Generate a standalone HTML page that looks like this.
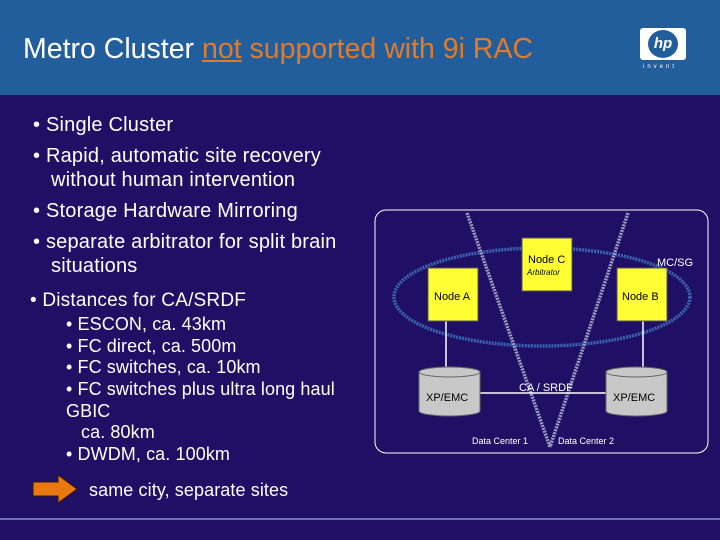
<!DOCTYPE html>
<html><head><meta charset="utf-8"><style>
body{margin:0;width:720px;height:540px;overflow:hidden;background:#1f1065;font-family:"Liberation Sans",sans-serif;position:relative;color:#fff}
.t{position:absolute;white-space:nowrap}
.b{font-size:20px;letter-spacing:0.2px}
.s{font-size:18px;letter-spacing:0.1px}
</style></head><body>
<div style="position:absolute;left:0;top:0;width:720px;height:95px;background:#235e9c"></div>
<div class="t" style="left:23px;top:33px;font-size:28.5px;color:#fff">Metro Cluster <span style="color:#e07b2a;text-decoration:underline">not</span><span style="color:#e07b2a"> supported with 9i RAC</span></div>
<div style="position:absolute;left:640px;top:28px;width:46px;height:32px;background:#fff;border-radius:3px"></div>
<div style="position:absolute;left:648px;top:30px;width:30px;height:28px;border-radius:50%;background:#235e9c;color:#fff;font:italic bold 15px 'Liberation Sans',sans-serif;text-align:center;line-height:28px">hp</div>
<div class="t" style="left:643px;top:64px;font-size:6px;letter-spacing:3px">invent</div>

<div class="t b" style="left:33px;top:114px">• Single Cluster</div>
<div class="t b" style="left:33px;top:145px">• Rapid, automatic site recovery</div>
<div class="t b" style="left:51px;top:169px">without human intervention</div>
<div class="t b" style="left:33px;top:200px">• Storage Hardware Mirroring</div>
<div class="t b" style="left:33px;top:231px">• separate arbitrator for split brain</div>
<div class="t b" style="left:51px;top:255px">situations</div>
<div class="t b" style="left:30px;top:290px;font-size:19px">• Distances for CA/SRDF</div>
<div class="t s" style="left:66px;top:314px">• ESCON, ca. 43km</div>
<div class="t s" style="left:66px;top:336px">• FC direct, ca. 500m</div>
<div class="t s" style="left:66px;top:357px">• FC switches, ca. 10km</div>
<div class="t s" style="left:66px;top:379px">• FC switches plus ultra long haul</div>
<div class="t s" style="left:66px;top:401px">GBIC</div>
<div class="t s" style="left:81px;top:422px">ca. 80km</div>
<div class="t s" style="left:66px;top:444px">• DWDM, ca. 100km</div>
<div class="t s" style="left:89px;top:480px">same city, separate sites</div>
<svg style="position:absolute;left:0;top:0" width="720" height="540">
<polygon points="33,482 58,482 58,475 77,489 58,503 58,496 33,496" fill="#e8780f" stroke="#3a1a00" stroke-width="1"/>
<line x1="0" y1="519" x2="720" y2="519" stroke="#7f8fd0" stroke-width="1.5"/>
<rect x="375" y="210" width="333" height="243" rx="11" fill="none" stroke="#fff" stroke-width="1"/>
<ellipse cx="542" cy="297" rx="148" ry="49" fill="none" stroke="#3a63b0" stroke-width="3.5" stroke-dasharray="2 1"/>
<line x1="467" y1="213" x2="550" y2="447" stroke="#9a9ac0" stroke-width="3.5" stroke-dasharray="2 1"/>
<line x1="628" y1="213" x2="550" y2="447" stroke="#9a9ac0" stroke-width="3.5" stroke-dasharray="2 1"/>
<line x1="446" y1="321" x2="446" y2="370" stroke="#fff" stroke-width="1.5"/>
<line x1="643" y1="321" x2="643" y2="370" stroke="#fff" stroke-width="1.5"/>
<line x1="480" y1="393" x2="606" y2="393" stroke="#fff" stroke-width="1.5"/>
<rect x="522" y="238" width="50" height="53" fill="#ffff33" stroke="#555" stroke-width="1"/>
<rect x="428" y="268" width="50" height="53" fill="#ffff33" stroke="#555" stroke-width="1"/>
<rect x="617" y="268" width="50" height="53" fill="#ffff33" stroke="#555" stroke-width="1"/>
<g fill="#c8c8c8" stroke="#666" stroke-width="1">
<path d="M419,372 L419,411 A30.5,5 0 0 0 480,411 L480,372"/>
<ellipse cx="449.5" cy="372" rx="30.5" ry="5"/>
<path d="M606,372 L606,411 A30.5,5 0 0 0 667,411 L667,372"/>
<ellipse cx="636.5" cy="372" rx="30.5" ry="5"/>
</g>
<g font-family="Liberation Sans,sans-serif" font-size="11" fill="#000">
<text x="528" y="263">Node C</text>
<text x="527" y="275" font-size="8" font-style="italic">Arbitrator</text>
<text x="434" y="300">Node A</text>
<text x="622" y="300">Node B</text>
<text x="426" y="401">XP/EMC</text>
<text x="613" y="401">XP/EMC</text>
</g>
<g font-family="Liberation Sans,sans-serif" font-size="11" fill="#fff">
<text x="657" y="266">MC/SG</text>
<text x="519" y="391">CA / SRDF</text>
<text x="472" y="444" font-size="9">Data Center 1</text>
<text x="558" y="444" font-size="9">Data Center 2</text>
</g>
</svg>
</body></html>
